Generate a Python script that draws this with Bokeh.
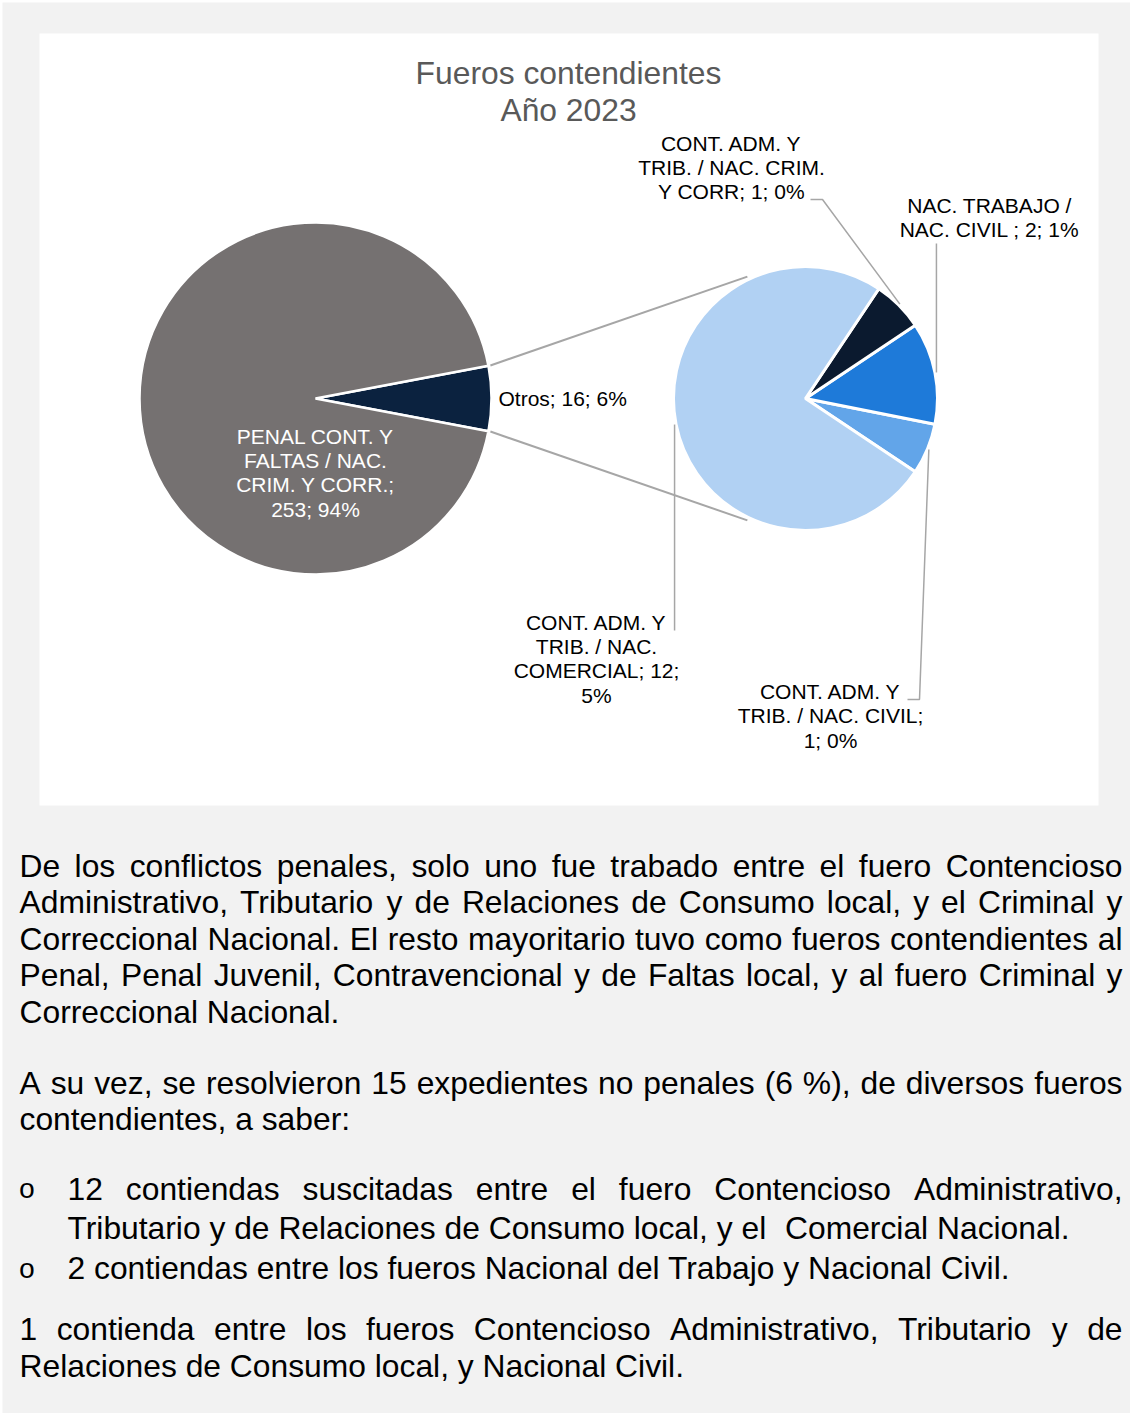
import math
from bokeh.plotting import figure
from bokeh.models import Range1d, ColumnDataSource
from bokeh.embed import file_html
from bokeh.resources import INLINE
from bokeh.core.properties import value

# ---------------- data ----------------
title_lines = ["Fueros contendientes", "Año 2023"]

main_names = ["Otros", "PENAL CONT. Y FALTAS / NAC. CRIM. Y CORR."]
main_values = [16, 253]
main_pcts = ["6%", "94%"]
main_colors = ["#0b223f", "#757171"]

sub_names = ["CONT. ADM. Y TRIB. / NAC. CIVIL",
             "NAC. TRABAJO / NAC. CIVIL ",
             "CONT. ADM. Y TRIB. / NAC. CRIM. Y CORR",
             "CONT. ADM. Y TRIB. / NAC. COMERCIAL"]
sub_values = [1, 2, 1, 12]
sub_pcts = ["0%", "1%", "0%", "5%"]
sub_colors = ["#62a5e9", "#1e7ad9", "#0b1a2f", "#b1d1f3"]

para1 = ["De los conflictos penales, solo uno fue trabado entre el fuero Contencioso",
         "Administrativo, Tributario y de Relaciones de Consumo local, y el Criminal y",
         "Correccional Nacional. El resto mayoritario tuvo como fueros contendientes al",
         "Penal, Penal Juvenil, Contravencional y de Faltas local, y al fuero Criminal y",
         "Correccional Nacional."]
para2 = ["A su vez, se resolvieron 15 expedientes no penales (6 %), de diversos fueros",
         "contendientes, a saber:"]
bullet1 = ["12 contiendas suscitadas entre el fuero Contencioso Administrativo,",
           "Tributario y de Relaciones de Consumo local, y el  Comercial Nacional."]
bullet2 = ["2 contiendas entre los fueros Nacional del Trabajo y Nacional Civil."]
para3 = ["1 contienda entre los fueros Contencioso Administrativo, Tributario y de",
         "Relaciones de Consumo local, y Nacional Civil."]

# ---------------- font metrics (Arial / Liberation Sans, per 1000 em) ----------------
AW = {}
for chars, w in [("ijl", 222), (" !,./:;I[]\\ft", 278), ("()-r`", 333), ('"', 355), ("*", 389),
                 ("^", 469), ("Jckvxyzs", 500), ("0123456789abdeghnopqu_$#?Lñ", 556),
                 ("+<=>", 584), ("FTZ", 611), ("ABEKPSVXY&", 667), ("CDHNRUw", 722),
                 ("GOQ", 778), ("Mm", 833), ("%", 889), ("W", 944), ("@", 1015)]:
    for c in chars:
        AW[c] = w


def tw(s, size):
    return sum(AW.get(c, 556) for c in s) * size / 1000.0


def wrap(s, maxw, size):
    lines, cur = [], ""
    for wd in s.split(" "):
        if wd == "":
            continue
        cand = wd if cur == "" else cur + " " + wd
        if cur and tw(cand, size) > maxw:
            lines.append(cur)
            cur = wd
        else:
            cur = cand
    if cur:
        lines.append(cur)
    return lines


# ---------------- figure (data units = page pixels, y downward negated) ----------------
W, H = 1130, 1413
p = figure(width=W, height=H, x_range=Range1d(0, W), y_range=Range1d(-H, 0),
           output_backend="svg", toolbar_location=None, min_border=0,
           x_axis_location=None, y_axis_location=None,
           background_fill_color="white", border_fill_color="white")
p.outline_line_color = None
p.grid.visible = False

FONT = value("Liberation Sans")

# page background and chart area
p.quad(left=[2], right=[1130], top=[-2], bottom=[-1413], fill_color="#f2f2f2", line_color=None)
p.quad(left=[39], right=[1098], top=[-33], bottom=[-805], fill_color="white", line_color=None)

# title
p.text(x=[568, 568], y=[-72, -109], text=title_lines, text_font=FONT,
       text_font_size=value("31.8px"), text_color="#595959",
       text_align="center", text_baseline="middle")

# main pie
MCX, MCY, MR = 315, -398, 176
tot_main = sum(main_values)
a = -math.pi * main_values[0] / tot_main
ms, me = [], []
for v in main_values:
    ms.append(a)
    a += 2 * math.pi * v / tot_main
    me.append(a)
p.wedge(x=MCX, y=MCY, radius=MR, start_angle="s", end_angle="e", fill_color="c",
        line_color="white", line_width=2.5,
        source=ColumnDataSource(dict(s=ms, e=me, c=main_colors)))

# sub pie
SCX, SCY, SR = 805, -398, 132
tot_sub = sum(sub_values)
a = math.radians(-33.75)
ss, se = [], []
for v in sub_values:
    ss.append(a)
    a += 2 * math.pi * v / tot_sub
    se.append(a)
p.wedge(x=SCX, y=SCY, radius=SR, start_angle="s", end_angle="e", fill_color="c",
        line_color="white", line_width=3,
        source=ColumnDataSource(dict(s=ss, e=se, c=sub_colors)))

# connector lines between pies
conn_x, conn_y = [], []
for ang_main, ang_sub in [(me[0], math.radians(115.5)), (ms[0], math.radians(-115.5))]:
    conn_x.append([MCX + (MR + 2) * math.cos(ang_main), SCX + (SR + 3) * math.cos(ang_sub)])
    conn_y.append([MCY + (MR + 2) * math.sin(ang_main), SCY + (SR + 3) * math.sin(ang_sub)])
p.multi_line(xs=conn_x, ys=conn_y, line_color="#a6a6a6", line_width=2)

# leader lines for sub pie labels
elbows = {0: [(919, -699), (907, -699)],
          1: [(None, -243)],
          2: [(822, -199), (810, -199)],
          3: [(None, -630)]}
lx, ly = [], []
for i in range(len(sub_values)):
    mid = (ss[i] + se[i]) / 2
    x0 = SCX + (SR + 1.5) * math.cos(mid)
    y0 = SCY + (SR + 1.5) * math.sin(mid)
    xs, ys = [x0], [y0]
    for ex, ey in elbows[i]:
        xs.append(x0 if ex is None else ex)
        ys.append(ey)
    lx.append(xs)
    ly.append(ys)
p.multi_line(xs=lx, ys=ly, line_color="#a6a6a6", line_width=1.5)

# data labels
LS = 21
STEP = 24.4
label_specs = []  # (text, anchor x, first line centre, align, color, max width)
main_anchor = [(498, -397.5, "left", "#000000", 400), (315, -435.5, "center", "#ffffff", 165)]
for i, nm in enumerate(main_names):
    ax, ay, al, col, mw = main_anchor[i]
    label_specs.append((f"{nm}; {main_values[i]}; {main_pcts[i]}", ax, ay, al, col, mw))
sub_anchor = [(830, -691, 190), (989, -205, 190), (731, -142.5, 190), (596, -621.5, 175)]
for i, nm in enumerate(sub_names):
    ax, ay, mw = sub_anchor[i]
    label_specs.append((f"{nm}; {sub_values[i]}; {sub_pcts[i]}", ax, ay, "center", "#000000", mw))

for txt, ax, ay, al, col, mw in label_specs:
    lines = wrap(txt, mw, LS)
    p.text(x=[ax] * len(lines), y=[ay - k * STEP for k in range(len(lines))], text=lines,
           text_font=FONT, text_font_size=value(f"{LS}px"), text_color=col,
           text_align=al, text_baseline="middle")

# body text (justified where needed)
BS = 31.8
bx, by, bt = [], [], []


def put_line(s, x0, x1, yc, justify):
    if not justify:
        # keep runs of several spaces by placing the segments separately
        x = x0
        for k, seg in enumerate(s.split("  ")):
            if k > 0:
                x += tw("  ", BS)
            bx.append(x); by.append(-yc); bt.append(seg)
            x += tw(seg, BS)
        return
    words = [w for w in s.split(" ") if w]
    widths = [tw(w, BS) for w in words]
    gap = (x1 - x0 - sum(widths)) / (len(words) - 1)
    gap = max(gap, tw(" ", BS) * 0.6)
    x = x0
    for w, wd in zip(words, widths):
        bx.append(x); by.append(-yc); bt.append(w)
        x += wd + gap


blocks = [(para1, 19, [865, 901.5, 938, 974.5, 1011], [True, True, True, True, False]),
          (para2, 19, [1082, 1118], [True, False]),
          (bullet1, 67, [1188, 1227], [True, False]),
          (bullet2, 67, [1267.5], [False]),
          (para3, 19, [1328, 1365], [True, False])]
for lines, x0, ys_, just in blocks:
    for s, yc, j in zip(lines, ys_, just):
        put_line(s, x0, 1122, yc, j)

p.text(x="x", y="y", text="t", source=ColumnDataSource(dict(x=bx, y=by, t=bt)),
       text_font=FONT, text_font_size=value(f"{BS}px"), text_color="#000000",
       text_align="left", text_baseline="middle")

# bullets
p.text(x=[18, 18], y=[-1190, -1270], text=["o", "o"], text_font=value("Liberation Mono"),
       text_font_size=value("28px"), text_color="#000000",
       text_align="left", text_baseline="middle")

open("out.html", "w").write(file_html(p, INLINE))
